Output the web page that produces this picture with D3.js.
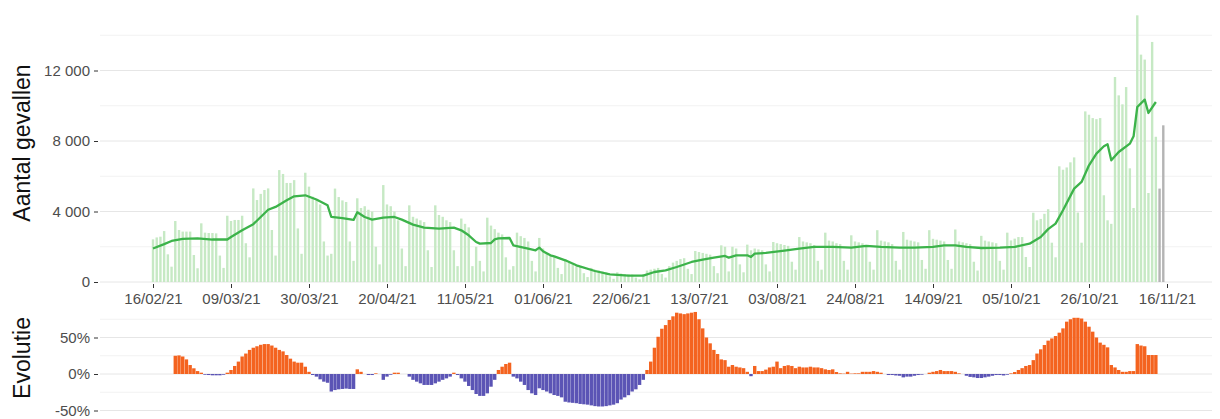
<!DOCTYPE html>
<meta charset="utf-8">
<script src="https://cdn.jsdelivr.net/npm/d3@7"></script>
<style>
  body { margin: 0; background: #fff; }
  text { font-family: "Liberation Sans", Arial, sans-serif; }
</style>
<div id="chart"></div>
<script>

// ---- data ----
// daily cases, first day = 16/02/21 (Tuesday)
var cases = [
  2420, 2530, 2570, 2890, 1570, 870, 3460,
  2950, 2860, 2860, 2860, 1530, 780, 3330,
  2800, 2780, 2780, 2760, 1500, 800, 3760,
  3460, 3520, 3520, 3760, 2200, 1400, 5310,
  4650, 5000, 5220, 5310, 2950, 1500, 6350,
  6130, 5620, 5620, 5780, 3040, 1600, 6200,
  5410, 4840, 4650, 4400, 2300, 1500, 1600,
  5300, 4820, 4630, 4540, 2300, 1200, 4750,
  4200, 4300, 4100, 4000, 2000, 1000, 5500,
  4400, 4300, 4000, 3500, 1900, 900, 4350,
  3700, 3600, 3500, 3400, 1800, 850, 4350,
  3800, 3700, 3500, 3400, 1800, 900, 3600,
  3300, 3100, 900, 2000, 1200, 600, 3650,
  3200, 3000, 2800, 2700, 1400, 700, 900,
  2800, 2600, 2500, 2300, 1200, 600, 2500,
  1900, 1600, 1500, 1400, 800, 450, 1300,
  1100, 1000, 900, 850, 500, 280, 800,
  700, 650, 600, 550, 320, 180, 550,
  480, 450, 430, 420, 250, 150, 450,
  650, 700, 750, 800, 450, 250, 900,
  1100, 1200, 1300, 1350, 750, 450, 1760,
  1700, 1650, 1600, 1550, 900, 500, 2080,
  2000, 600, 2000, 1900, 1000, 550, 2120,
  1800, 1900, 1850, 1800, 1000, 600, 2270,
  2200, 2150, 2100, 2050, 1150, 700, 2550,
  2300, 2250, 2200, 2100, 1200, 700, 2800,
  2350, 2300, 2200, 2150, 1200, 700, 2650,
  2300, 2250, 2200, 2100, 1150, 700, 2940,
  2350, 2300, 2250, 2150, 1200, 700, 2840,
  2400, 2350, 2300, 2250, 1250, 750, 2940,
  2450, 2400, 2350, 2300, 1250, 750, 2980,
  2300, 2250, 2200, 2150, 1150, 650, 2620,
  2350, 2300, 2250, 2200, 1200, 700, 2800,
  2360, 2460, 2550, 2550, 1420, 850, 3930,
  3500, 3580, 3870, 4130, 2230, 1400, 6565,
  6370, 6500, 6790, 7070, 3940, 2230, 9680,
  9490, 9300, 9240, 9300, 4920, 3500, 3300,
  11630, 10590, 10080, 11060, 6450, 4200, 15130,
  12900, 12620, 5050, 13620, 8240
];
// last days, not yet complete (grey)
var casesIncomplete = [5300, 8890];

// 7 day average (day index from 16/02/21, value)
var avgDay = [0, 3, 5, 8, 12, 16, 20, 21, 24, 27, 29, 31, 33, 36, 38, 41, 44, 47, 48, 51,
  54, 55, 57, 59, 62, 65, 67, 70, 73, 77, 81, 83, 85, 87, 88, 91, 92, 93, 96, 97,
  101, 103, 104, 105, 107, 108, 111, 114, 119, 123, 128, 132, 135, 138, 141, 145, 148, 151, 154, 155,
  157, 160, 161, 162, 165, 170, 174, 178, 183, 188, 192, 196, 201, 205, 210, 213, 216, 219, 223, 228,
  232, 236, 239, 241, 243, 245, 248, 250, 252, 254, 256, 257, 258, 260, 263, 264, 265, 267, 268, 270];
var avgValue = [1900, 2150, 2330, 2450, 2470, 2410, 2410, 2550, 2930, 3280, 3690, 4100, 4260, 4640, 4860, 4920, 4680, 4350, 3690, 3630,
  3520, 3960, 3690, 3540, 3650, 3690, 3540, 3255, 3085, 3028, 3085, 2933, 2650, 2270, 2176, 2213, 2420, 2470, 2497, 2082,
  1893, 1800, 1950, 1743, 1515, 1458, 1231, 948, 624, 435, 360, 360, 567, 662, 851, 1135, 1270, 1383, 1478, 1383,
  1515, 1515, 1420, 1610, 1650, 1780, 1893, 1990, 1990, 1950, 2044, 1990, 1950, 1950, 1990, 2082, 2082, 1990, 1930, 1950,
  1990, 2176, 2555, 3000, 3310, 4068, 5298, 5675, 6620, 7283, 7700, 7813, 6905, 7376, 7850, 8267, 9930, 10346, 9590, 10213];

// week on week evolution (%), first value = 22/02/21
var evolStart = 6;
var evolution = [
  25, 25.5, 24, 20, 12.3, 7.8, 4, 1.8, -1, -1.4, -1.8, -1.8, -1.8, -1, 1.8,
  5.5, 11, 17, 24, 28, 33, 36, 38, 40, 41, 41, 39, 36, 33, 31,
  26, 21, 17, 15.5, 15.5, 10, 3, -1.4, -3.6, -7.3, -10.5, -12, -24, -22, -21,
  -20.5, -20, -20.5, -20.5, 6.4, 3, 0, -1.4, -1.4, 0.9, 0, -8, -3.6, -1, 1.8,
  1.8, 0, 0, -3.6, -8, -10.5, -12.8, -15, -15, -15, -12.8, -10.5, -8, -6, -3.6,
  1.8, -1.4, -6, -10.5, -16.4, -22, -27.4, -30, -30, -26.5, -17.4, -8, 5.5, 10, 13.7,
  15.5, -3.6, -6, -10.5, -15, -22, -26.5, -28.8, -19.6, -22, -24, -26.5, -28.8, -30, -32,
  -38, -39, -39.5, -40, -41, -41.5, -42, -43, -44, -44.5, -44.5, -44, -43, -42, -40,
  -35, -32, -29, -24, -21, -15, -8, 5.5, 17, 36, 51, 62, 67, 74, 79,
  84, 83, 82, 83, 84, 85, 75, 62.5, 50, 42, 33, 27.4, 20, 19, 10,
  12.3, 10, 9, 8, 3, -3, 11, 4, 4, 6, 9, 10, 17, 8, 11,
  12, 11, 8, 10, 9, 9, 10, 9, 9, 8, 6.4, 5.5, 6.4, 2.7, 0.9,
  0.5, 3, 0.5, 0.9, 0.9, 3, 3, 3, 4, 3, 1.8, 0, -1.4, -1.4, -2,
  -2.4, -4.6, -3.6, -3.6, -2.4, -1.4, -0.9, 0, 1.8, 3, 4, 5.5, 4, 4, 4,
  3, 0.9, 0, -2.4, -4, -4.6, -5.5, -5.5, -4.6, -3.6, -2.4, -1.4, -1.4, -2, -1,
  0.9, 2.7, 5.5, 8, 11, 12.3, 19, 28, 33.8, 39.7, 45.7, 48.7, 52, 56.6, 62.5,
  71.7, 75, 77, 77, 76, 71.7, 64.8, 58, 50, 43, 40, 36.5, 12.3, 9, 5.5,
  3, 3, 4, 4, 41, 39, 38, 26, 26, 26
];

var xTickLabels = ["16/02/21", "09/03/21", "30/03/21", "20/04/21", "11/05/21", "01/06/21", "22/06/21",
  "13/07/21", "03/08/21", "24/08/21", "14/09/21", "05/10/21", "26/10/21", "16/11/21"];
var yTicks = [0, 4000, 8000, 12000];
var yGrid = [0, 2000, 4000, 6000, 8000, 10000, 12000, 14000];
var evolTicks = [-50, 0, 50];
var evolGrid = [-50, -25, 0, 25, 50, 75];

// ---- setup ----
var W = 1220, H = 419;
var left = 100, right = 1212;
var parseDay = d3.timeParse("%d/%m/%y");
var fmtDay = d3.timeFormat("%d/%m/%y");
var nl = d3.formatLocale({decimal: ",", thousands: " ", grouping: [3], currency: ["€", ""]});
var fmtNum = nl.format(",d");
var start = parseDay("16/02/21");
function day(i) { return d3.timeDay.offset(start, i); }

var svg = d3.select("#chart").append("svg")
  .attr("width", W).attr("height", H);

var x = d3.scaleTime()
  .domain([start, parseDay("16/11/21")])
  .range([153, 1167]);

var y = d3.scaleLinear().domain([0, 16000]).range([282, 0]);
var y2 = d3.scaleLinear().domain([-50, 50]).range([410.5, 337.5]);

// grid lines top
svg.append("g").selectAll("line")
  .data(yGrid).enter().append("line")
    .attr("x1", left).attr("x2", right)
    .attr("y1", function(d) { return y(d); })
    .attr("y2", function(d) { return y(d); })
    .attr("stroke", function(d) { return d % 4000 == 0 ? "#e6e6e6" : "#f2f2f2"; })
    .attr("stroke-width", 1);

// grid lines bottom
svg.append("g").selectAll("line")
  .data(evolGrid).enter().append("line")
    .attr("x1", left).attr("x2", right)
    .attr("y1", function(d) { return y2(d); })
    .attr("y2", function(d) { return y2(d); })
    .attr("stroke", function(d) { return d % 50 == 0 ? "#e6e6e6" : "#f2f2f2"; })
    .attr("stroke-width", 1);

// daily bars
var bw = 2.4;
svg.append("g").selectAll("rect")
  .data(cases).enter().append("rect")
    .attr("x", function(d, i) { return x(day(i)) - bw / 2; })
    .attr("y", function(d) { return y(d); })
    .attr("width", bw)
    .attr("height", function(d) { return y(0) - y(d); })
    .attr("fill", "#c6e9c4");

svg.append("g").selectAll("rect")
  .data(casesIncomplete).enter().append("rect")
    .attr("x", function(d, i) { return x(day(cases.length + i)) - bw / 2; })
    .attr("y", function(d) { return y(d); })
    .attr("width", bw)
    .attr("height", function(d) { return y(0) - y(d); })
    .attr("fill", "#b4b4b4");

// 7 day average line
var avgData = avgDay.map(function(d, i) { return {day: d, value: avgValue[i]}; });
svg.append("path")
  .datum(avgData)
  .attr("fill", "none")
  .attr("stroke", "#3cb34a")
  .attr("stroke-width", 2.3)
  .attr("stroke-linejoin", "round")
  .attr("d", d3.line()
    .x(function(d) { return x(day(d.day)); })
    .y(function(d) { return y(d.value); }));

// evolution bars
var ew = 3.4;
svg.append("g").selectAll("rect")
  .data(evolution).enter().append("rect")
    .attr("x", function(d, i) { return x(day(evolStart + i)) - ew / 2; })
    .attr("y", function(d) { return d >= 0 ? y2(d) : y2(0); })
    .attr("width", ew)
    .attr("height", function(d) { return Math.abs(y2(d) - y2(0)); })
    .attr("fill", function(d) { return d >= 0 ? "#f4631f" : "#5b54b5"; });

// x axis (top panel)
var xAxis = svg.append("g")
  .attr("transform", "translate(0,284)")
  .call(d3.axisBottom(x)
    .tickValues(xTickLabels.map(parseDay))
    .tickFormat(fmtDay)
    .tickSize(4)
    .tickPadding(5));
xAxis.select(".domain").remove();
xAxis.selectAll("line").attr("stroke", "#333");
xAxis.selectAll("text")
  .attr("fill", "#4d4d4d")
  .style("font-size", "15px");

// y axis (top panel)
var yAxis = svg.append("g")
  .attr("transform", "translate(98,0)")
  .call(d3.axisLeft(y).tickValues(yTicks).tickFormat(fmtNum).tickSize(4).tickPadding(4));
yAxis.select(".domain").remove();
yAxis.selectAll("line").attr("stroke", "#333");
yAxis.selectAll("text")
  .attr("fill", "#4d4d4d")
  .style("font-size", "15px");

// y axis (evolution)
var y2Axis = svg.append("g")
  .attr("transform", "translate(98,0)")
  .call(d3.axisLeft(y2).tickValues(evolTicks)
    .tickFormat(function(d) { return d + "%"; }).tickSize(4).tickPadding(4));
y2Axis.select(".domain").remove();
y2Axis.selectAll("line").attr("stroke", "#333");
y2Axis.selectAll("text")
  .attr("fill", "#4d4d4d")
  .style("font-size", "15px");

// axis titles
svg.append("text")
  .attr("transform", "translate(30,143) rotate(-90)")
  .attr("text-anchor", "middle")
  .style("font-size", "23px")
  .attr("fill", "#111")
  .text("Aantal gevallen");

svg.append("text")
  .attr("transform", "translate(30,358) rotate(-90)")
  .attr("text-anchor", "middle")
  .style("font-size", "23px")
  .attr("fill", "#111")
  .text("Evolutie");

</script>
